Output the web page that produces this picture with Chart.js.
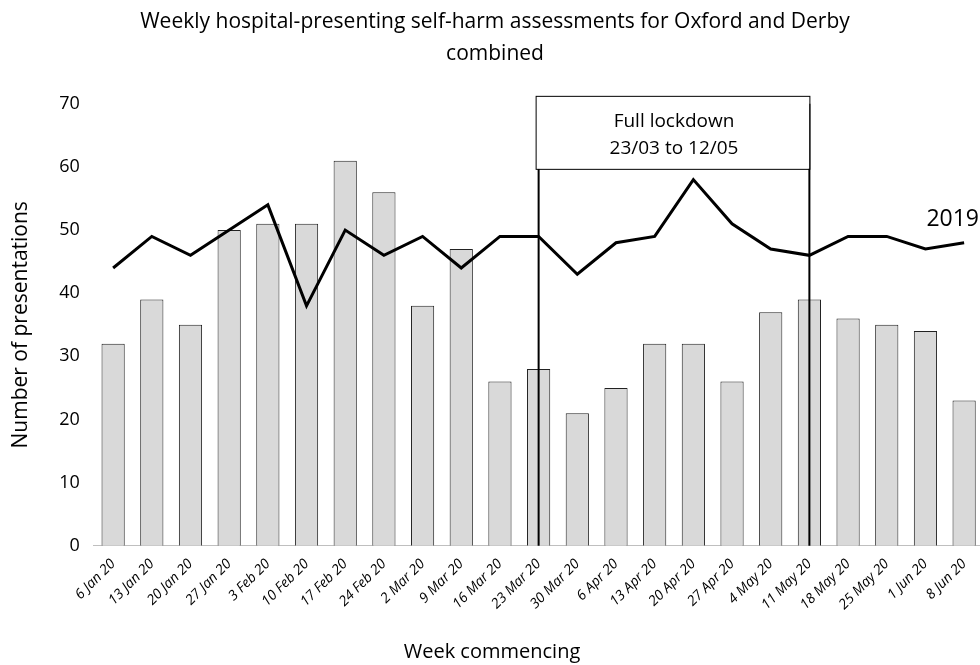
<!DOCTYPE html>
<html>
<head>
<meta charset="utf-8">
<script src="https://cdn.jsdelivr.net/npm/chart.js@4/dist/chart.umd.min.js"></script>
<style>
  html, body { margin: 0; padding: 0; background: #fff; overflow: hidden; }
  #wrap { width: 986px; height: 665px; position: relative; }
</style>
</head>
<body>
<div id="wrap"><canvas id="chart"></canvas></div>
<script>
// week commencing labels
var weeks = ['6 Jan 20', '13 Jan 20', '20 Jan 20', '27 Jan 20', '3 Feb 20', '10 Feb 20',
    '17 Feb 20', '24 Feb 20', '2 Mar 20', '9 Mar 20', '16 Mar 20', '23 Mar 20',
    '30 Mar 20', '6 Apr 20', '13 Apr 20', '20 Apr 20', '27 Apr 20', '4 May 20',
    '11 May 20', '18 May 20', '25 May 20', '1 Jun 20', '8 Jun 20'];

// 2020 presentations (bars)
var values2020 = [32, 39, 35, 50, 51, 51, 61, 56, 38, 47, 26, 28, 21, 25, 32, 32, 26, 37, 39, 36, 35, 34, 23];

// 2019 comparison (line)
var values2019 = [44, 49, 46, 50, 54, 38, 50, 46, 49, 44, 49, 49, 43, 48, 49, 58, 51, 47, 46, 49, 49, 47, 48];

var yTicks = [0, 10, 20, 30, 40, 50, 60, 70];
var lockdownStart = '23 Mar 20';
var lockdownEnd = '11 May 20';
var lockdownText = ['Full lockdown', '23/03 to 12/05'];
var lineLabel = '2019';
var xTitle = 'Week commencing';

var FONT = "'Open Sans', 'DejaVu Sans', sans-serif";

var lockdownPlugin = {
    id: 'lockdown',
    afterDatasetsDraw: function(chart) {
        var ctx = chart.ctx;
        var x = chart.scales.x;
        var y = chart.scales.y;
        var x1 = x.getPixelForValue(weeks.indexOf(lockdownStart));
        var x2 = x.getPixelForValue(weeks.indexOf(lockdownEnd));
        var y0 = y.getPixelForValue(0);
        var yTop = y.getPixelForValue(70);
        var boxTop = yTop - 8;
        var boxBottom = yTop + 65;

        ctx.save();
        ctx.strokeStyle = '#000';
        ctx.lineWidth = 2;
        ctx.beginPath();
        ctx.moveTo(x1, y0);
        ctx.lineTo(x1, boxBottom);
        ctx.moveTo(x2, y0);
        ctx.lineTo(x2, yTop);
        ctx.stroke();

        ctx.fillStyle = '#fff';
        ctx.fillRect(x1 - 3, boxTop, x2 - x1 + 3, boxBottom - boxTop);
        ctx.lineWidth = 1;
        ctx.strokeRect(x1 - 3 + 0.5, boxTop + 0.5, x2 - x1 + 3, boxBottom - boxTop);

        ctx.fillStyle = '#000';
        ctx.font = '19px ' + FONT;
        ctx.textAlign = 'center';
        ctx.textBaseline = 'middle';
        var cx = (x1 + x2) / 2;
        ctx.fillText(lockdownText[0], cx, boxTop + 26);
        ctx.fillText(lockdownText[1], cx, boxTop + 53);

        // series label next to line end
        ctx.font = '23px ' + FONT;
        ctx.textAlign = 'right';
        ctx.fillText(lineLabel, 979, y.getPixelForValue(51.7));

        // x axis title centred on the page rather than the plot
        ctx.font = '20px ' + FONT;
        ctx.textAlign = 'center';
        ctx.fillText(xTitle, 492, 652);
        ctx.restore();
    }
};

new Chart(document.getElementById('chart'), {
    type: 'bar',
    data: {
        labels: weeks,
        datasets: [{
            type: 'line',
            label: '2019',
            data: values2019,
            borderColor: '#000',
            borderWidth: 3,
            pointRadius: 0,
            tension: 0,
            order: 0
        }, {
            type: 'bar',
            label: '2020',
            data: values2020,
            backgroundColor: '#d9d9d9',
            borderColor: '#222',
            borderWidth: 1,
            categoryPercentage: 1,
            barPercentage: 0.6,
            order: 1
        }]
    },
    options: {
        responsive: true,
        maintainAspectRatio: false,
        animation: false,
        layout: { padding: { left: 4, right: 0, top: 6, bottom: 0 } },
        plugins: {
            legend: { display: false },
            tooltip: { enabled: false },
            title: {
                display: true,
                text: ['Weekly hospital-presenting self-harm assessments for Oxford and Derby', 'combined'],
                color: '#000',
                font: { family: FONT, size: 21, weight: 'normal', lineHeight: 1.52 },
                padding: { top: 0, bottom: 34 }
            }
        },
        scales: {
            x: {
                grid: { display: false, drawTicks: false },
                border: { display: true, color: '#bfbfbf', width: 1 },
                ticks: {
                    color: '#000',
                    font: { family: FONT, size: 14, style: 'italic' },
                    minRotation: 45,
                    maxRotation: 45,
                    autoSkip: false,
                    padding: 10
                },
                title: {
                    // space holder; the visible title is drawn by the plugin
                    display: true,
                    text: xTitle,
                    color: 'rgba(0,0,0,0)',
                    font: { family: FONT, size: 20 },
                    padding: { top: 18, bottom: 0 }
                }
            },
            y: {
                min: 0,
                max: 70,
                afterBuildTicks: function(axis) {
                    axis.ticks = yTicks.map(function(v) { return { value: v }; });
                },
                grid: { display: false, drawTicks: false },
                border: { display: false },
                ticks: {
                    color: '#000',
                    font: { family: FONT, size: 18 },
                    padding: 14
                },
                title: {
                    display: true,
                    text: 'Number of presentations',
                    color: '#000',
                    font: { family: FONT, size: 21 },
                    padding: { bottom: 12 }
                }
            }
        }
    },
    plugins: [lockdownPlugin]
});
</script>
</body>
</html>
